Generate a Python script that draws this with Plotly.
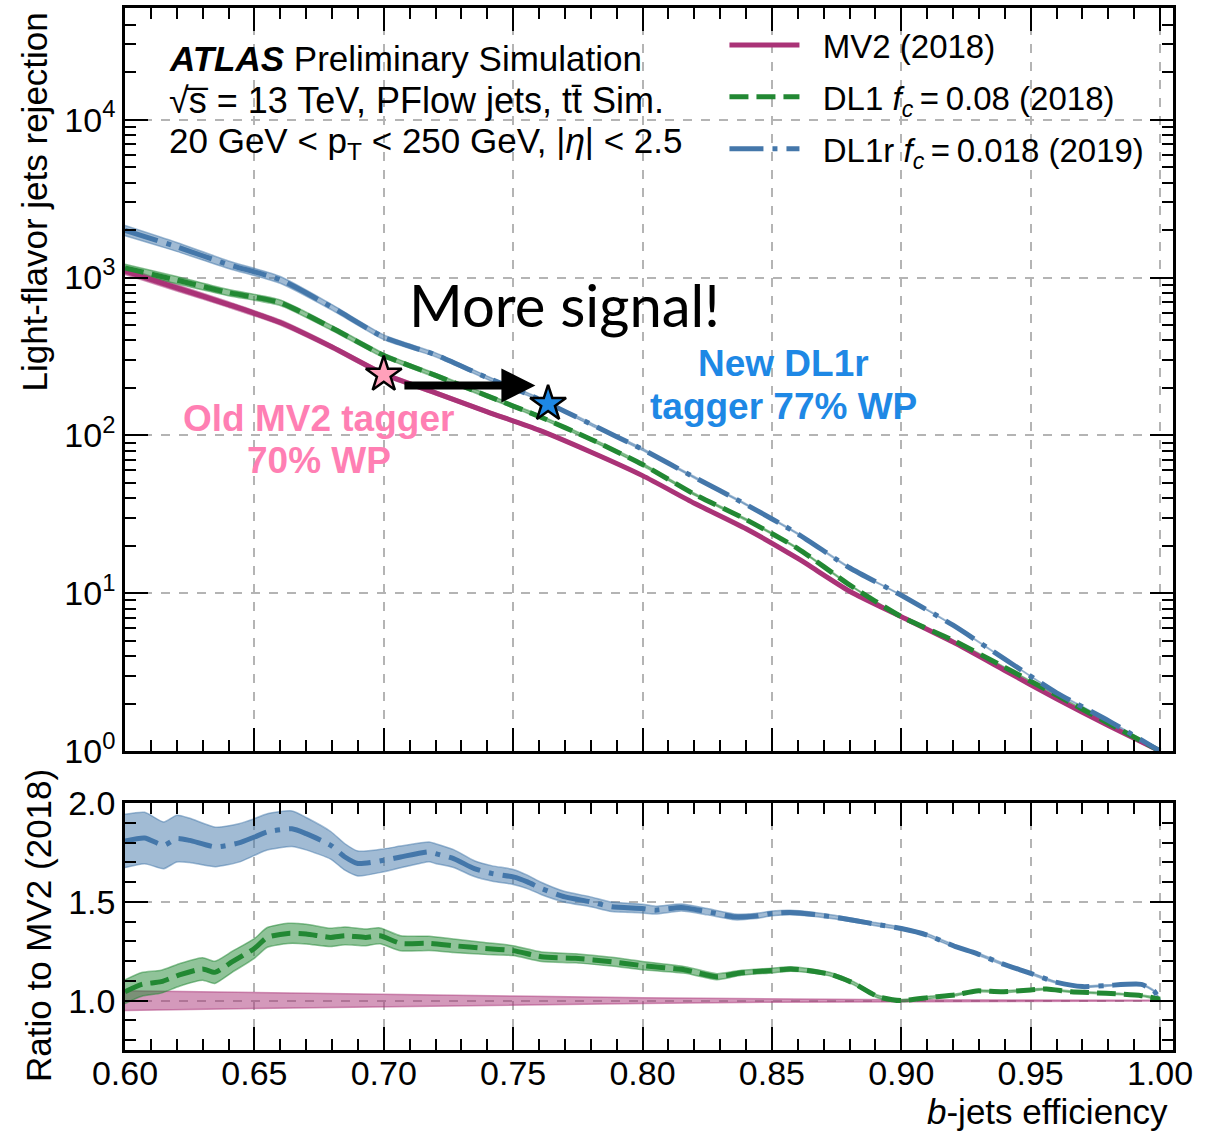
import plotly.graph_objects as go

# ---------------- data ----------------
eff_top = [0.60, 0.62, 0.64, 0.66, 0.68, 0.70, 0.72, 0.74, 0.76, 0.78, 0.80,
           0.82, 0.84, 0.86, 0.88, 0.90, 0.92, 0.94, 0.96, 0.98, 1.00]
rej_mv2 = [1100, 861, 675, 519, 363, 245, 186, 141, 108, 78.5, 55.6,
           37.2, 25.6, 16.6, 10.3, 7.1, 4.9, 3.24, 2.14, 1.45, 1.0]
rej_dl1 = [1150, 964, 803, 693, 479, 321, 240, 178, 132, 94.6, 65.4,
           42.4, 29.3, 19.2, 11.3, 7.1, 5.03, 3.39, 2.26, 1.50, 1.0]
rej_dl1r = [1989, 1567, 1208, 968, 648, 419, 324, 232, 170, 118, 81.5,
            54.3, 36.5, 23.8, 14.5, 9.7, 6.27, 3.82, 2.34, 1.56, 1.0]
relerr_mv2 = [0.05, 0.045, 0.04, 0.037, 0.033, 0.03, 0.027, 0.024, 0.021, 0.018, 0.015,
              0.012, 0.01, 0.008, 0.006, 0.004, 0.003, 0.003, 0.003, 0.002, 0.002]
relerr_dl1 = [0.057, 0.053, 0.045, 0.04, 0.036, 0.031, 0.028, 0.026, 0.021, 0.019, 0.018,
              0.014, 0.012, 0.01, 0.008, 0.006, 0.005, 0.005, 0.005, 0.004, 0.003]
relerr_dl1r = [0.075, 0.065, 0.055, 0.05, 0.04, 0.034, 0.029, 0.024, 0.02, 0.017, 0.015,
               0.012, 0.01, 0.008, 0.007, 0.005, 0.005, 0.004, 0.004, 0.003, 0.003]

eff_ratio_dl1r = [0.600, 0.6076, 0.615, 0.620, 0.625, 0.635, 0.644, 0.650, 0.655, 0.6645,
                  0.670, 0.6795, 0.685, 0.690, 0.700, 0.7065, 0.7175, 0.720, 0.727, 0.735,
                  0.742, 0.750, 0.7555, 0.761, 0.770, 0.780, 0.788, 0.800, 0.805, 0.815,
                  0.825, 0.8355, 0.8435, 0.850, 0.857, 0.8665, 0.8775, 0.890, 0.900, 0.910,
                  0.921, 0.929, 0.9385, 0.950, 0.959, 0.970, 0.979, 0.9928, 0.9976, 1.000]
ratio_dl1r = [1.808, 1.823, 1.786, 1.820, 1.811, 1.778, 1.798, 1.828, 1.854, 1.870,
              1.845, 1.786, 1.727, 1.694, 1.710, 1.727, 1.753, 1.744, 1.719, 1.668,
              1.643, 1.626, 1.601, 1.567, 1.525, 1.500, 1.475, 1.466, 1.458, 1.471,
              1.450, 1.424, 1.428, 1.441, 1.446, 1.436, 1.416, 1.387, 1.365, 1.332,
              1.273, 1.239, 1.189, 1.138, 1.096, 1.071, 1.076, 1.082, 1.049, 1.003]
ratio_dl1r_err = [0.135, 0.13, 0.118, 0.118, 0.112, 0.10, 0.097, 0.093, 0.092, 0.09,
                  0.082, 0.07, 0.067, 0.063, 0.058, 0.055, 0.05, 0.05, 0.045, 0.04,
                  0.039, 0.038, 0.034, 0.031, 0.027, 0.025, 0.024, 0.022, 0.02, 0.018,
                  0.016, 0.015, 0.013, 0.012, 0.011, 0.01, 0.009, 0.008, 0.007, 0.007,
                  0.006, 0.006, 0.005, 0.005, 0.004, 0.004, 0.004, 0.003, 0.003, 0.003]

eff_ratio_dl1 = [0.600, 0.6065, 0.614, 0.621, 0.630, 0.6347, 0.6415, 0.650, 0.655, 0.663,
                 0.670, 0.6795, 0.685, 0.693, 0.6985, 0.7065, 0.7175, 0.727, 0.739, 0.750,
                 0.761, 0.774, 0.788, 0.800, 0.8165, 0.8287, 0.8382, 0.850, 0.8572, 0.864,
                 0.8735, 0.8816, 0.891, 0.900, 0.9114, 0.9209, 0.929, 0.9385, 0.950, 0.9561,
                 0.9656, 0.9791, 0.9928, 1.000]
ratio_dl1 = [1.045, 1.082, 1.096, 1.130, 1.160, 1.143, 1.197, 1.264, 1.320, 1.340,
             1.337, 1.320, 1.328, 1.320, 1.328, 1.290, 1.290, 1.278, 1.264, 1.253,
             1.222, 1.214, 1.197, 1.177, 1.155, 1.121, 1.141, 1.152, 1.160, 1.152,
             1.130, 1.088, 1.020, 1.000, 1.017, 1.029, 1.049, 1.045, 1.054, 1.059,
             1.045, 1.037, 1.025, 1.007]
ratio_dl1_err = [0.06, 0.06, 0.058, 0.057, 0.057, 0.056, 0.053, 0.05, 0.05, 0.051,
                 0.05, 0.046, 0.045, 0.042, 0.04, 0.038, 0.036, 0.034, 0.03, 0.025,
                 0.024, 0.023, 0.022, 0.021, 0.017, 0.015, 0.013, 0.012, 0.011, 0.01,
                 0.009, 0.008, 0.007, 0.006, 0.006, 0.005, 0.005, 0.005, 0.005, 0.004,
                 0.004, 0.004, 0.003, 0.003]

eff_ratio_mv2 = [0.60, 0.65, 0.70, 0.75, 0.80, 0.85, 0.90, 0.95, 1.00]
ratio_mv2 = [1.0, 1.0, 1.0, 1.0, 1.0, 1.0, 1.0, 1.0, 1.0]
ratio_mv2_err = [0.05, 0.04, 0.03, 0.023, 0.015, 0.008, 0.004, 0.003, 0.002]

wp_eff = [0.70, 0.7635]
wp_rej = [243, 158.6]

NB = "\u00a0\u00a0"
TS = "\u2009"
names = [NB + "MV2 (2018)",
         NB + "DL1 <i>f</i><sub><i>c</i></sub>" + TS + "=" + TS + "0.08 (2018)",
         NB + "DL1r <i>f</i><sub><i>c</i></sub>" + TS + "=" + TS + "0.018 (2019)"]

# ---------------- styles ----------------
C_MV2, C_DL1, C_DL1R = "#AA3377", "#228833", "#4477AA"
A_MV2, A_DL1, A_DL1R = "rgba(170,51,119,0.5)", "rgba(34,136,51,0.5)", "rgba(68,119,170,0.5)"
DASH_DL1 = "19px,8px"
DASH_DL1R = "34px,9px,5px,9px"
FONT = "Liberation Sans, Arial, sans-serif"
LW = 5
SM = 0.6

fig = go.Figure()


def band(x, y, err, rel, color, xa, ya, shape):
    if rel:
        up = [v * (1 + e) for v, e in zip(y, err)]
        lo = [v * (1 - e) for v, e in zip(y, err)]
    else:
        up = [v + e for v, e in zip(y, err)]
        lo = [v - e for v, e in zip(y, err)]
    fig.add_trace(go.Scatter(x=list(x) + list(x)[::-1], y=up + lo[::-1], fill="toself",
                             fillcolor=color,
                             line=dict(color=color, width=1.5, shape=shape, smoothing=SM),
                             mode="lines", showlegend=False, hoverinfo="skip",
                             xaxis=xa, yaxis=ya))


# top panel bands
band(eff_top, rej_mv2, relerr_mv2, True, A_MV2, "x", "y", "spline")
band(eff_top, rej_dl1, relerr_dl1, True, A_DL1, "x", "y", "spline")
band(eff_top, rej_dl1r, relerr_dl1r, True, A_DL1R, "x", "y", "spline")

# top panel lines
fig.add_trace(go.Scatter(x=eff_top, y=rej_mv2, mode="lines", name=names[0], legendgroup="a",
                         line=dict(color=C_MV2, width=LW, shape="spline", smoothing=SM),
                         xaxis="x", yaxis="y"))
fig.add_trace(go.Scatter(x=eff_top, y=rej_dl1, mode="lines", name=names[1], legendgroup="b",
                         line=dict(color=C_DL1, width=LW, dash=DASH_DL1, shape="spline", smoothing=SM),
                         xaxis="x", yaxis="y"))
fig.add_trace(go.Scatter(x=eff_top, y=rej_dl1r, mode="lines", name=names[2], legendgroup="c",
                         line=dict(color=C_DL1R, width=LW, dash=DASH_DL1R, shape="spline", smoothing=SM),
                         xaxis="x", yaxis="y"))

# working points
fig.add_trace(go.Scatter(x=wp_eff, y=wp_rej, mode="markers", showlegend=False,
                         marker=dict(symbol="star", size=27, color=["#FFA0BA", "#1E88E5"],
                                     line=dict(color="black", width=2.5)),
                         xaxis="x", yaxis="y"))

# ratio panel
band(eff_ratio_mv2, ratio_mv2, ratio_mv2_err, False, A_MV2, "x2", "y2", "linear")
band(eff_ratio_dl1, ratio_dl1, ratio_dl1_err, False, A_DL1, "x2", "y2", "spline")
band(eff_ratio_dl1r, ratio_dl1r, ratio_dl1r_err, False, A_DL1R, "x2", "y2", "spline")
fig.add_trace(go.Scatter(x=eff_ratio_dl1, y=ratio_dl1, mode="lines", showlegend=False,
                         line=dict(color=C_DL1, width=LW, dash=DASH_DL1, shape="spline", smoothing=SM),
                         xaxis="x2", yaxis="y2"))
fig.add_trace(go.Scatter(x=eff_ratio_dl1r, y=ratio_dl1r, mode="lines", showlegend=False,
                         line=dict(color=C_DL1R, width=LW, dash=DASH_DL1R, shape="spline", smoothing=SM),
                         xaxis="x2", yaxis="y2"))

# ---------------- axes ----------------
common = dict(ticks="inside", ticklen=23, tickwidth=2, tickcolor="black",
              showline=True, linewidth=2.5, linecolor="black", mirror="ticks",
              showgrid=True, gridcolor="#b4b4b4", griddash="dash", gridwidth=1.5,
              zeroline=False, automargin=False,
              tickfont=dict(family=FONT, size=34, color="black"))
minor_common = dict(ticks="inside", ticklen=11.5, tickwidth=1.5, tickcolor="black", showgrid=False)

XR = [0.6, 1.005]
TOP_DOM = [0.2869, 1.0]
BOT_DOM = [0.0, 0.2370]

minor_log = [k * 10 ** d for d in range(0, 5) for k in range(2, 10) if k * 10 ** d < 5e4]

fig.update_layout(
    xaxis=dict(common, domain=[0, 1], range=XR, anchor="y", tick0=0.6, dtick=0.05,
               showticklabels=False, minor=dict(minor_common, dtick=0.01, tick0=0.6)),
    yaxis=dict(common, domain=TOP_DOM, type="log", range=[0, 4.708], anchor="x",
               tickmode="array", tickvals=[1, 10, 100, 1000, 10000],
               ticktext=["10<sup>0</sup>", "10<sup>1</sup>", "10<sup>2</sup>",
                         "10<sup>3</sup>", "10<sup>4</sup>"],
               minor=dict(minor_common, tickmode="array", tickvals=minor_log)),
    xaxis2=dict(common, domain=[0, 1], range=XR, anchor="y2", tick0=0.6, dtick=0.05,
                tickformat=".2f", ticklabelstandoff=-9,
                minor=dict(minor_common, dtick=0.01, tick0=0.6)),
    yaxis2=dict(common, domain=BOT_DOM, range=[0.75, 2.0], anchor="x2",
                tickmode="array", tickvals=[1.0, 1.5, 2.0], ticktext=["1.0", "1.5", "2.0"],
                minor=dict(minor_common, dtick=0.1, tick0=0.0)),
)

fig.update_layout(
    width=1220, height=1133,
    margin=dict(l=125, r=47, t=8, b=83, autoexpand=False),
    paper_bgcolor="white", plot_bgcolor="white",
    font=dict(family=FONT, size=32, color="black"),
    showlegend=True,
    legend=dict(x=0.572, y=0.9914, xanchor="left", yanchor="top", bgcolor="rgba(0,0,0,0)",
                borderwidth=0, itemwidth=70, tracegroupgap=6,
                font=dict(family=FONT, size=33, color="black")),
)

ann = []
def txt(text, x, y, size=35, color="black", xanchor="left", family=FONT, angle=0, yanchor="middle"):
    ann.append(dict(text=text, x=x, y=y, xref="paper", yref="paper", showarrow=False,
                    xanchor=xanchor, yanchor=yanchor, textangle=angle,
                    font=dict(family=family, size=size, color=color)))

txt("<b><i>ATLAS</i></b> Preliminary Simulation", 0.0401, 0.952)
txt("\u221as\u0305 = 13 TeV, PFlow jets, tt\u0304 Sim.", 0.0401, 0.9117, size=36)
txt("20 GeV &lt; p<sub>T</sub> &lt; 250 GeV, |<i>\u03b7</i>| &lt; 2.5", 0.0401, 0.8704)
txt("More signal!", 0.4198, 0.715, size=58, family="Lato", xanchor="center")
txt("<b>Old MV2 tagger</b>", 0.1851, 0.6065, size=37, color="#FF7FB3", xanchor="center")
txt("<b>70% WP</b>", 0.1851, 0.5653, size=37, color="#FF7FB3", xanchor="center")
txt("<b>New DL1r</b>", 0.6283, 0.6588, size=37, color="#1E88E5", xanchor="center")
txt("<b>tagger 77% WP</b>", 0.6283, 0.6180, size=37, color="#1E88E5", xanchor="center")
txt("Light-flavor jets rejection", -0.0859, 0.998, angle=-90, xanchor="center", yanchor="top")
txt("Ratio to MV2 (2018)", -0.083, 0.119, angle=-90, xanchor="center")
txt("<i>b</i>-jets efficiency", 0.9971, -0.0595, xanchor="right")

# arrow
ann.append(dict(x=0.7586, y=2.3166, ax=0.7074, ay=2.3166, xref="x", yref="y",
                axref="x", ayref="y", text="", showarrow=True, arrowhead=2,
                arrowwidth=8, arrowsize=0.85, arrowcolor="black", standoff=0))

fig.update_layout(annotations=ann)

fig.write_html("out.html")
